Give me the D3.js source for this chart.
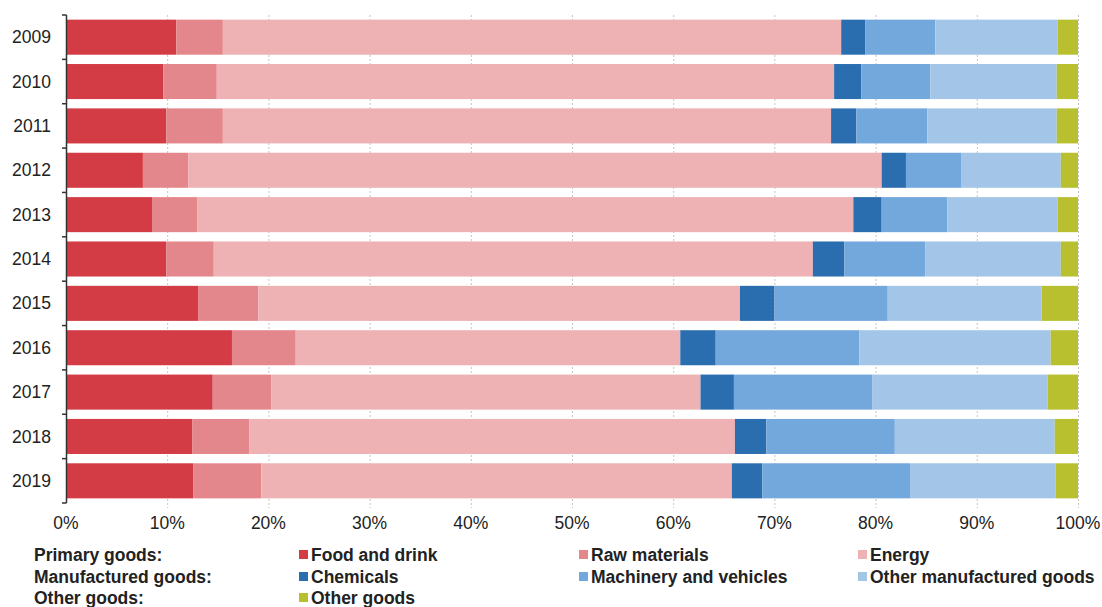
<!DOCTYPE html>
<html><head><meta charset="utf-8">
<script src="https://cdn.jsdelivr.net/npm/d3@7"></script>
<style>
body{margin:0;background:#fff;}
text{font-family:"Liberation Sans",Arial,sans-serif;}
</style></head>
<body><svg id="c" width="1102" height="607"></svg>
<script>
const years = ["2009","2010","2011","2012","2013","2014","2015","2016","2017","2018","2019"];
const seriesNames = ["Food and drink","Raw materials","Energy","Chemicals","Machinery and vehicles","Other manufactured goods","Other goods"];
const foodDrink    = [10.9, 9.6, 9.9, 7.6, 8.5, 9.9,13.1,16.4,14.5,12.5,12.6];
const rawMaterials = [ 4.6, 5.3, 5.6, 4.5, 4.5, 4.7, 5.9, 6.3, 5.8, 5.6, 6.7];
const energy       = [61.1,61.0,60.1,68.5,64.8,59.2,47.6,38.0,42.4,48.0,46.5];
const chemicals    = [ 2.4, 2.7, 2.5, 2.4, 2.8, 3.1, 3.4, 3.5, 3.3, 3.1, 3.0];
const machinery    = [ 6.9, 6.8, 7.0, 5.5, 6.5, 8.0,11.2,14.2,13.7,12.7,14.6];
const otherManuf   = [12.1,12.5,12.8, 9.8,10.9,13.4,15.2,18.9,17.3,15.8,14.4];
const otherGoods   = [ 2.0, 2.1, 2.1, 1.7, 2.0, 1.7, 3.6, 2.7, 3.0, 2.3, 2.2];
const xTicks = [0,10,20,30,40,50,60,70,80,90,100];
const groupLabels = ["Primary goods:","Manufactured goods:","Other goods:"];
const colors = ["#d43c45","#e4878c","#eeb1b4","#2b6eb0","#73a8dc","#a3c6e8","#b8c030"];

const seriesData = [foodDrink,rawMaterials,energy,chemicals,machinery,otherManuf,otherGoods];
const table = years.map((y,i)=>{const o={year:y}; seriesNames.forEach((s,j)=>o[s]=seriesData[j][i]); return o;});
const stack = d3.stack().keys(seriesNames).offset(d3.stackOffsetExpand)(table);

const svg = d3.select("#c");
const x = d3.scaleLinear().domain([0,1]).range([66,1078]);
const y = d3.scaleBand().domain(years).range([15,503]).paddingInner(0.21).paddingOuter(0.105);

// gridlines
svg.append("g").selectAll("line").data(xTicks.slice(1)).join("line")
  .attr("x1",d=>x(d/100)+0.5).attr("x2",d=>x(d/100)+0.5)
  .attr("y1",15).attr("y2",508)
  .attr("stroke","#c4c4c4").attr("stroke-width",1).attr("stroke-dasharray","2,2");

// bars
svg.append("g").selectAll("g").data(stack).join("g")
  .attr("fill",(d,i)=>colors[i])
  .selectAll("rect").data(d=>d).join("rect")
  .attr("x",d=>x(d[0])).attr("width",d=>x(d[1])-x(d[0]))
  .attr("y",d=>y(d.data.year)).attr("height",y.bandwidth());

// y axis
const yAxis = svg.append("g");
yAxis.append("line").attr("x1",66.5).attr("x2",66.5).attr("y1",15).attr("y2",503)
  .attr("stroke","#333").attr("stroke-width",1.5);
const bounds = d3.range(years.length+1).map(i=>15+i*(488/years.length));
yAxis.selectAll("line.tk").data(bounds).join("line").attr("class","tk")
  .attr("x1",62).attr("x2",66.5).attr("y1",d=>d).attr("y2",d=>d)
  .attr("stroke","#333").attr("stroke-width",1.5);
yAxis.selectAll("text").data(years).join("text")
  .attr("x",51).attr("y",d=>y(d)+y.bandwidth()/2).attr("dy","0.35em")
  .attr("text-anchor","end").attr("font-size",17.5).attr("fill","#222").text(d=>d);

// x tick labels
svg.append("g").selectAll("text").data(xTicks).join("text")
  .attr("x",d=>x(d/100)).attr("y",523).attr("dy","0.35em").attr("text-anchor","middle")
  .attr("font-size",17.5).attr("fill","#222").text(d=>d+"%");

// legend
const rowsY = [555,577,598];
const lg = svg.append("g");
lg.selectAll("text.g").data(groupLabels).join("text").attr("class","g")
  .attr("x",34).attr("y",(d,i)=>rowsY[i]).attr("dy","0.35em")
  .attr("font-size",17.5).attr("font-weight","bold").attr("fill","#222").text(d=>d);
const colX = [299,579,858];
const items = seriesNames.map((s,i)=>({name:s,color:colors[i],
  col: i<3? i : (i<6? i-3 : 0), row: i<3?0:(i<6?1:2)}));
const li = lg.selectAll("g.it").data(items).join("g").attr("class","it")
  .attr("transform",d=>`translate(${colX[d.col]},${rowsY[d.row]})`);
li.append("rect").attr("x",0).attr("y",-5).attr("width",9).attr("height",9).attr("fill",d=>d.color);
li.append("text").attr("x",12).attr("dy","0.35em").attr("font-size",17.5).attr("font-weight","bold")
  .attr("fill","#222").text(d=>d.name);
</script></body></html>
